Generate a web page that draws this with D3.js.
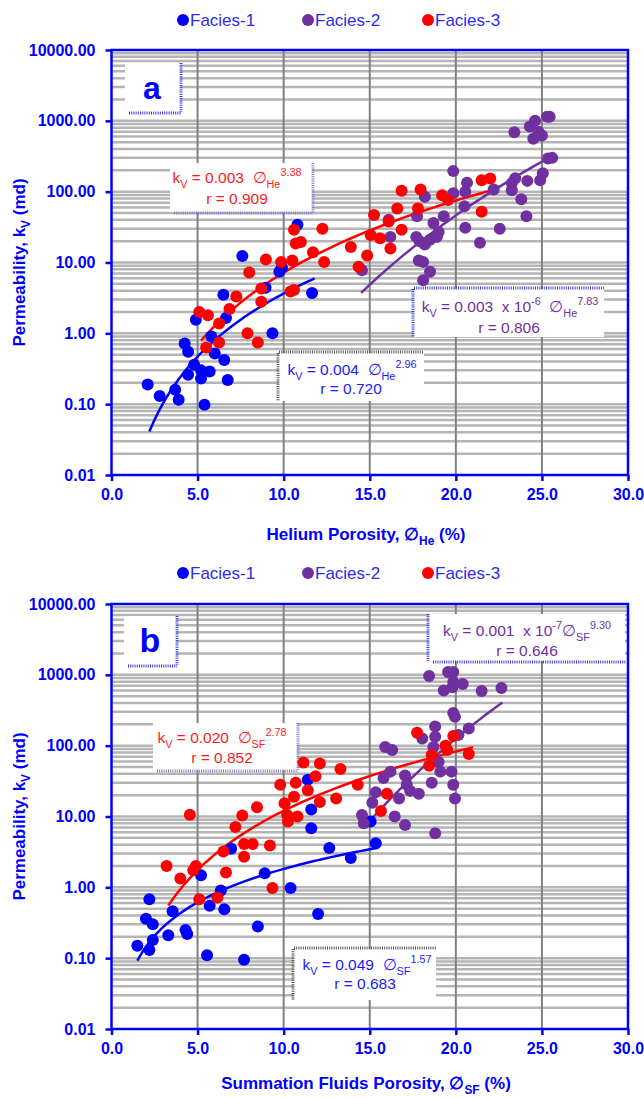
<!DOCTYPE html>
<html>
<head>
<meta charset="utf-8">
<script src="https://d3js.org/d3.v7.min.js"></script>
<style>
  body { margin: 0; background: #fff; }
  svg text { font-family: "Liberation Sans", Arial, Helvetica, sans-serif; white-space: pre; }
</style>
</head>
<body>
<div id="vis"></div>
<script>
// page size
const width = 644;
const height = 1098;

// shared axis values
const xTicks = [0, 5, 10, 15, 20, 25, 30];
const yTicks = [0.01, 0.1, 1, 10, 100, 1000, 10000];
const faciesNames = ['Facies-1', 'Facies-2', 'Facies-3'];
const faciesColors = ['#0000ff', '#7030a0', '#ff0000'];

// panel a : helium porosity (%) vs kV (md)
const heFacies1 = [[2.1,0.19],[2.8,0.13],[3.7,0.16],[3.9,0.115],[4.25,0.72],[4.45,0.55],[4.45,0.26],[4.8,0.36],
  [4.9,1.55],[5.2,0.30],[5.2,0.23],[5.4,0.098],[5.7,0.29],[5.8,0.9],[6.0,0.52],[6.5,3.5],[6.55,0.42],
  [6.65,1.65],[6.75,0.22],[7.6,12.4],[8.95,4.4],[9.35,1.0],[9.75,7.4],[9.9,8.5],[10.8,34],[11.65,3.7]];
const heFacies2 = [[14.55,7.8],[16.1,40],[16.2,23],[17.75,45],[17.7,23],[17.9,20],[18.2,18],[18.5,21],
  [17.85,10.7],[18.1,10.2],[18.5,7.4],[18.1,5.6],[18.2,85],[18.7,36],[18.9,23],[19.0,27],[19.3,45],
  [19.85,95],[19.85,195],[20.5,62],[20.55,100],[20.55,31],[20.65,134],[21.4,19],[22.2,107],[22.55,30],
  [23.25,131],[23.25,105],[23.4,690],[23.45,155],[23.8,78],[24.1,45],[24.15,142],[24.3,830],[24.5,560],
  [24.6,1000],[24.8,700],[25.0,620],[24.9,145],[25.05,182],[25.3,1140],[25.45,1140],[25.35,295],[25.6,300]];
const heFacies3 = [[5.1,2.0],[5.6,1.8],[5.5,0.63],[6.25,1.38],[6.25,0.74],[6.85,2.2],[7.25,3.3],[7.9,1.0],
  [8.0,7.2],[8.5,0.74],[8.7,4.3],[8.7,2.8],[8.97,11],[9.85,10.2],[10.4,3.9],[10.6,4.1],[10.5,10.7],
  [10.6,29],[10.7,18.6],[11.0,19.5],[11.7,14],[12.25,30],[12.35,10.2],[13.9,16.6],[14.35,8.7],[14.85,12.6],
  [15.05,24.5],[15.25,47],[15.6,22],[16.1,38],[16.2,15.8],[16.6,58],[16.85,29],[16.85,103],[17.8,58],
  [17.95,107],[19.2,89],[19.55,76],[21.5,145],[22.0,154],[21.5,52]];
// power fits kV = coef * phi^exp, over the x range of each facies
const heFits = [
  {facies: 0, coef: 0.004, exp: 2.96, from: 2.2, to: 11.8},
  {facies: 1, coef: 0.003e-6, exp: 7.83, from: 14.5, to: 25.6},
  {facies: 2, coef: 0.003, exp: 3.38, from: 5.2, to: 22.0}
];

// panel b : summation fluids porosity (%) vs kV (md)
const sfFacies1 = [[1.5,0.15],[2.0,0.36],[2.2,0.68],[2.2,0.13],[2.4,0.30],[2.4,0.18],[3.3,0.21],[3.55,0.46],
  [4.3,0.25],[4.4,0.22],[5.2,1.48],[5.55,0.11],[5.7,0.55],[6.35,0.9],[6.55,0.49],[6.95,3.5],[7.7,0.095],
  [8.5,0.28],[8.9,1.58],[10.4,0.98],[11.4,33],[11.6,12.6],[11.6,6.8],[12.0,0.42],[12.65,3.6],[13.9,2.6],
  [15.05,8.5],[15.35,4.2]];
const sfFacies2 = [[14.55,10.5],[14.65,8],[15.15,15.6],[15.35,22],[15.8,35],[15.9,96],[16.2,43],[16.3,87],
  [16.45,10],[16.7,18],[17.05,38],[17.05,7.6],[17.15,28],[17.35,23],[17.85,21],[18.05,126],[18.45,960],
  [18.6,30],[18.7,96],[18.8,186],[18.8,134],[18.8,5.8],[19.0,59],[19.1,43],[19.3,600],[19.55,1100],
  [19.75,43],[19.8,670],[19.85,28],[19.85,1100],[19.85,790],[19.85,290],[19.95,255],[19.95,18],
  [20.15,141],[20.4,740],[20.75,175],[21.5,590],[22.65,650]];
const sfFacies3 = [[3.2,2.0],[4.0,1.33],[4.55,10.6],[4.75,1.74],[4.9,2.0],[5.1,0.68],[6.15,0.72],[6.5,3.2],
  [6.65,1.62],[7.2,7.1],[7.6,10.3],[7.7,2.7],[7.7,4.1],[8.2,4.1],[8.45,13.5],[9.2,3.9],[9.35,0.98],
  [9.8,28],[10.05,15.4],[10.2,10.5],[10.25,8.5],[10.6,19],[10.7,30],[10.8,10],[11.15,58],[11.4,23.5],
  [11.85,37],[12.1,56],[12.1,16],[13.05,18],[13.3,47],[14.3,28],[15.65,12],[16.0,21],[17.75,152],
  [18.45,52],[18.6,74],[19.4,100],[19.5,87],[19.85,137],[20.75,76]];
const sfFits = [
  {facies: 0, coef: 0.049, exp: 1.57, from: 1.5, to: 15.5},
  {facies: 1, coef: 0.001e-7, exp: 9.30, from: 14.8, to: 22.7},
  {facies: 2, coef: 0.020, exp: 2.78, from: 3.3, to: 21.0}
];

// plot area (left / right edges shared by both panels)
const plotLeft = 111.5;
const plotRight = 628;

let svg = d3.select('#vis')
    .append('svg')
    .attr('width', width)
    .attr('height', height);

// write text made of plain / sub / super parts
function richText(sel, parts, size) {
    let off = 0;
    parts.forEach(p => {
        let target = p.sub ? size * 0.3 : (p.sup ? -size * 0.42 : 0);
        sel.append('tspan')
            .attr('dy', target - off)
            .attr('font-size', (p.sub || p.sup) ? size * 0.7 : size)
            .text(p.t);
        off = target;
    });
}

function drawPanel(p) {
    let g = svg.append('g');

    let xScale = d3.scaleLinear().domain([0, 30]).range([plotLeft, plotRight]);
    let yScale = d3.scaleLog().domain([0.01, 10000]).range([p.bottom, p.top]);

    // legend
    faciesNames.forEach((name, i) => {
        let lx = [183, 308, 428][i];
        g.append('circle')
            .attr('cx', lx).attr('cy', p.legendY)
            .attr('r', 6)
            .attr('fill', faciesColors[i]);
        g.append('text')
            .attr('x', lx + 7).attr('y', p.legendY + 6)
            .attr('font-size', 17)
            .attr('fill', '#2b2bf0')
            .text(name);
    });

    // horizontal grid on every log step
    let minor = [];
    d3.range(-2, 4).forEach(e => d3.range(1, 10).forEach(m => {
        let v = m * Math.pow(10, e);
        if (v > 0.01 && v < 10000) minor.push(v);
    }));
    g.selectAll('.hgrid')
        .data(minor)
        .join('line')
        .attr('x1', plotLeft).attr('x2', plotRight)
        .attr('y1', d => yScale(d)).attr('y2', d => yScale(d))
        .attr('stroke', '#b5b5b5')
        .attr('stroke-width', 2.5);

    // vertical grid
    g.selectAll('.vgrid')
        .data(xTicks.slice(1, -1))
        .join('line')
        .attr('x1', d => xScale(d)).attr('x2', d => xScale(d))
        .attr('y1', p.top).attr('y2', p.bottom)
        .attr('stroke', '#808080')
        .attr('stroke-width', 2);

    // label boxes (white with dotted shadow edges)
    p.boxes.forEach(b => {
        g.append('rect')
            .attr('x', b.x).attr('y', b.y)
            .attr('width', b.w).attr('height', b.h)
            .attr('fill', '#fff');
        b.edges.forEach(e => {
            let pts = {
                left: [b.x - 1, b.y, b.x - 1, b.y + b.h],
                right: [b.x + b.w + 1, b.y, b.x + b.w + 1, b.y + b.h],
                top: [b.x, b.y - 1, b.x + b.w, b.y - 1],
                bottom: [b.x + 4, b.y + b.h + 1, b.x + b.w + 1, b.y + b.h + 1]
            }[e];
            g.append('line')
                .attr('x1', pts[0]).attr('y1', pts[1])
                .attr('x2', pts[2]).attr('y2', pts[3])
                .attr('stroke', b.edgeColor)
                .attr('stroke-width', 3)
                .attr('stroke-dasharray', '1,1.2');
        });
        b.lines.forEach(l => {
            let t = g.append('text')
                .attr('x', l.x).attr('y', l.y)
                .attr('text-anchor', 'middle')
                .attr('fill', b.color)
                .attr('font-weight', b.bold ? 'bold' : 'normal');
            richText(t, l.parts, l.size || 15.5);
        });
    });

    // fitted curves
    let line = d3.line()
        .x(d => xScale(d[0]))
        .y(d => yScale(d[1]));
    p.fits.forEach(f => {
        let pts = d3.range(0, 41).map(i => {
            let x = f.from + (f.to - f.from) * i / 40;
            return [x, f.coef * Math.pow(x, f.exp)];
        });
        g.append('path')
            .datum(pts)
            .attr('d', line)
            .attr('fill', 'none')
            .attr('stroke', faciesColors[f.facies])
            .attr('stroke-width', 2.5);
    });

    // points
    [0, 1, 2].forEach(i => {
        g.selectAll('.pt' + i)
            .data(p.series[i])
            .join('circle')
            .attr('cx', d => xScale(d[0]))
            .attr('cy', d => yScale(d[1]))
            .attr('r', 6)
            .attr('fill', faciesColors[i]);
    });

    // frame
    g.append('rect')
        .attr('x', plotLeft).attr('y', p.top)
        .attr('width', plotRight - plotLeft).attr('height', p.bottom - p.top)
        .attr('fill', 'none')
        .attr('stroke', '#0000ff')
        .attr('stroke-width', 2.5);

    // y axis
    let yAxis = d3.axisLeft(yScale)
        .tickValues(yTicks)
        .tickFormat(d3.format('.2f'))
        .tickSize(6)
        .tickPadding(10);
    let ya = g.append('g')
        .attr('transform', `translate(${plotLeft},0)`)
        .call(yAxis);
    ya.select('.domain').remove();
    ya.selectAll('line').attr('stroke', '#0000ff').attr('stroke-width', 2.5);
    ya.selectAll('text')
        .attr('fill', '#0000ff')
        .attr('font-size', 16)
        .attr('font-weight', 'bold')
        .style('font-family', '"Liberation Sans", Arial, sans-serif');

    // x axis
    let xAxis = d3.axisBottom(xScale)
        .tickValues(xTicks)
        .tickFormat(d3.format('.1f'))
        .tickSize(6)
        .tickPadding(8);
    let xa = g.append('g')
        .attr('transform', `translate(0,${p.bottom})`)
        .call(xAxis);
    xa.select('.domain').remove();
    xa.selectAll('line').attr('stroke', '#0000ff').attr('stroke-width', 2.5);
    xa.selectAll('text')
        .attr('fill', '#0000ff')
        .attr('font-size', 16)
        .attr('font-weight', 'bold')
        .style('font-family', '"Liberation Sans", Arial, sans-serif');

    // axis titles
    let xt = g.append('text')
        .attr('x', 366).attr('y', p.bottom + p.xTitleGap)
        .attr('text-anchor', 'middle')
        .attr('fill', '#0000ff')
        .attr('font-weight', 'bold');
    richText(xt, p.xTitle, 17);

    let yt = g.append('text')
        .attr('transform', `translate(25,${(p.top + p.bottom) / 2}) rotate(-90)`)
        .attr('text-anchor', 'middle')
        .attr('fill', '#0000ff')
        .attr('font-weight', 'bold');
    richText(yt, [{t: 'Permeability, k'}, {t: 'V', sub: true}, {t: ' (md)'}], 17);
}

// panel a
drawPanel({
    top: 50, bottom: 475, legendY: 20, xTitleGap: 65,
    series: [heFacies1, heFacies2, heFacies3],
    fits: heFits,
    xTitle: [{t: 'Helium Porosity, '}, {t: '∅'}, {t: 'He', sub: true}, {t: ' (%)'}],
    boxes: [
        {x: 125, y: 63, w: 55, h: 49, edges: ['right', 'bottom'], edgeColor: '#3a3af5', color: '#0000ff', bold: true,
         lines: [{x: 152, y: 99, size: 32, parts: [{t: 'a'}]}]},
        {x: 170, y: 163, w: 142, h: 49, edges: ['right', 'bottom'], edgeColor: '#8a78c8', color: '#ff1a1a',
         lines: [{x: 237, y: 183, parts: [{t: 'k'}, {t: 'V', sub: true}, {t: ' = 0.003  ∅'}, {t: 'He', sub: true}, {t: '3.38', sup: true}]},
                 {x: 237, y: 204, parts: [{t: 'r = 0.909'}]}]},
        {x: 414, y: 289, w: 190, h: 48, edges: ['left', 'top'], edgeColor: '#3a3af5', color: '#7030a0',
         lines: [{x: 510, y: 312, parts: [{t: 'k'}, {t: 'V', sub: true}, {t: ' = 0.003  x 10'}, {t: '-6', sup: true}, {t: '  ∅'}, {t: 'He', sub: true}, {t: '7.83', sup: true}]},
                 {x: 509, y: 333, parts: [{t: 'r = 0.806'}]}]},
        {x: 279, y: 353, w: 145, h: 48, edges: ['left', 'top'], edgeColor: '#555', color: '#1a1aff',
         lines: [{x: 352, y: 375, parts: [{t: 'k'}, {t: 'V', sub: true}, {t: ' = 0.004  ∅'}, {t: 'He', sub: true}, {t: '2.96', sup: true}]},
                 {x: 351, y: 394, parts: [{t: 'r = 0.720'}]}]}
    ]
});

// panel b
drawPanel({
    top: 604, bottom: 1029, legendY: 573, xTitleGap: 60,
    series: [sfFacies1, sfFacies2, sfFacies3],
    fits: sfFits,
    xTitle: [{t: 'Summation Fluids Porosity, '}, {t: '∅'}, {t: 'SF', sub: true}, {t: ' (%)'}],
    boxes: [
        {x: 124, y: 616, w: 52, h: 49, edges: ['right', 'bottom'], edgeColor: '#3a3af5', color: '#0000ff', bold: true,
         lines: [{x: 150, y: 652, size: 34, parts: [{t: 'b'}]}]},
        {x: 429, y: 614, w: 196, h: 47, edges: ['left', 'bottom'], edgeColor: '#3a3af5', color: '#7030a0',
         lines: [{x: 527, y: 636, parts: [{t: 'k'}, {t: 'V', sub: true}, {t: ' = 0.001  x 10'}, {t: '-7', sup: true}, {t: '∅'}, {t: 'SF', sub: true}, {t: '9.30', sup: true}]},
                 {x: 527, y: 656, parts: [{t: 'r = 0.646'}]}]},
        {x: 153, y: 723, w: 144, h: 47, edges: ['right', 'bottom'], edgeColor: '#8a78c8', color: '#ff1a1a',
         lines: [{x: 222, y: 743, parts: [{t: 'k'}, {t: 'V', sub: true}, {t: ' = 0.020  ∅'}, {t: 'SF', sub: true}, {t: '2.78', sup: true}]},
                 {x: 222, y: 763, parts: [{t: 'r = 0.852'}]}]},
        {x: 294, y: 949, w: 142, h: 51, edges: ['left', 'top'], edgeColor: '#555', color: '#1a1aff',
         lines: [{x: 367, y: 970, parts: [{t: 'k'}, {t: 'V', sub: true}, {t: ' = 0.049  ∅'}, {t: 'SF', sub: true}, {t: '1.57', sup: true}]},
                 {x: 365, y: 989, parts: [{t: 'r = 0.683'}]}]}
    ]
});
</script>
</body>
</html>
